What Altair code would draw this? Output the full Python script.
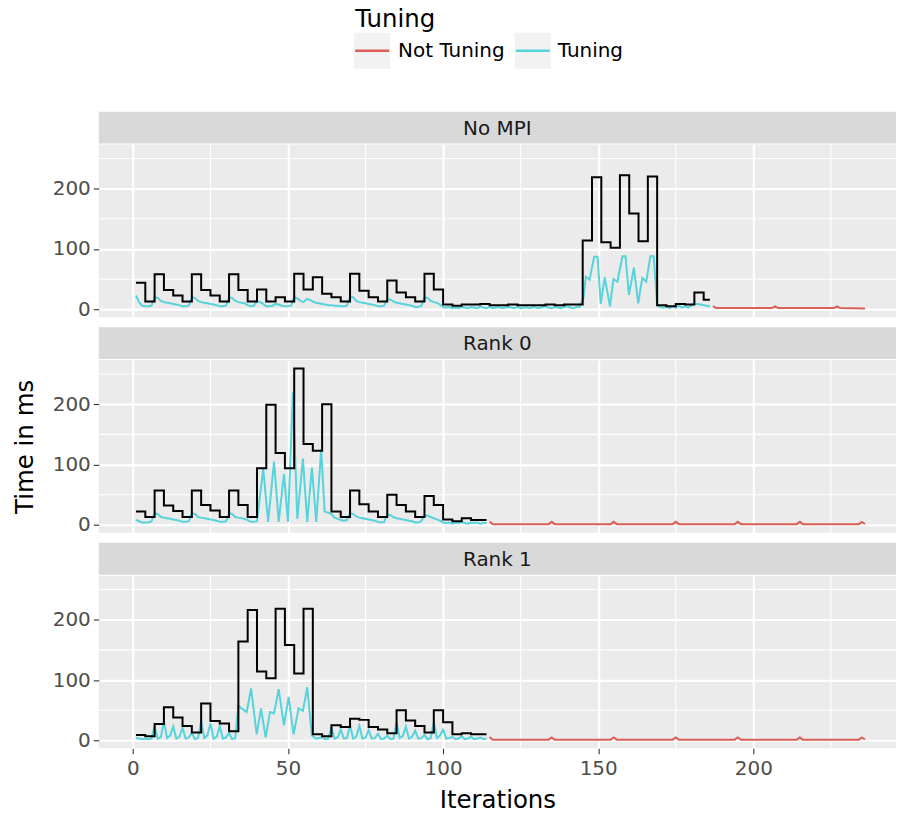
import altair as alt
import pandas as pd

# ---------------- data ----------------
panels = ["No MPI", "Rank 0", "Rank 1"]
tuning_levels = ["Not Tuning", "Tuning"]
tuning_colors = ["#DB5F57", "#57D3DB"]
x_ticks = [0, 50, 100, 150, 200]
y_ticks = [0, 100, 200]
x_minor = [25, 75, 125, 175, 225]
y_minor = [50, 150, 250]

# --- No MPI ---
nompi_step_x = [1, 4, 7, 10, 13, 16, 19, 22, 25, 28, 31, 34, 37, 40, 43, 46, 49, 52, 55, 58,
                61, 64, 67, 70, 73, 76, 79, 82, 85, 88, 91, 94, 97, 100, 103, 106, 109, 112, 115,
                118, 121, 124, 127, 130, 133, 136, 139, 142, 145, 148, 151, 154, 157, 160, 163,
                166, 169, 172, 175, 178, 181, 184, 186]
nompi_step_y = [44, 13, 58, 32, 23, 13, 58, 32, 23, 13, 58, 32, 13, 33, 13, 20, 13, 59, 33, 53,
                26, 20, 13, 59, 31, 20, 13, 48, 28, 20, 13, 59, 33, 8, 6, 8, 8, 9, 7,
                7, 8, 7, 7, 7, 8, 7, 8, 8, 114, 219, 111, 102, 222, 159, 113,
                220, 7, 5, 9, 8, 28, 16, 16]
nompi_tune_x = list(range(1, 145)) + [145.3, 146, 147.2, 148.7, 149.8, 150.8, 152.1, 153.8, 154.9,
                                      156.2, 157.8, 158.8, 159.9, 161.5, 162.9, 164.2, 165.5,
                                      166.8, 167.9, 169] + list(range(170, 187))
nompi_tune_y = [23, 12, 6, 5, 5, 6,
                20, 19, 14, 12, 11, 10, 9, 8, 7, 5, 5, 6,
                20, 19, 14, 12, 11, 10, 9, 8, 7, 5, 5, 6,
                20, 19, 14, 12, 11, 10, 7, 5, 6,
                14, 12, 9, 5, 5, 6, 9, 8, 6, 5, 5, 6,
                20, 18, 14, 12, 17, 16, 13, 11, 10, 9, 8, 7, 7, 6, 6, 5, 5, 6,
                20, 20, 14, 12, 11, 10, 9, 8, 7, 5, 5, 6,
                17, 16, 13, 11, 10, 9, 8, 7, 6, 4, 4, 6,
                20, 19, 14, 12, 11, 8,
                4, 3, 4, 2, 3, 2, 4, 3, 2, 4, 3, 2, 5, 3, 2, 4, 2, 3, 4, 2, 3, 4, 3, 2, 4,
                2, 3, 3, 2, 4, 3, 2, 4, 5, 3, 2, 4, 3, 2, 4, 5, 3, 2, 4, 4,
                20, 54, 49, 87, 87, 9, 53, 5, 50, 46, 88, 88, 24, 69, 10, 52, 46, 88, 88, 7,
                4, 3, 4, 2, 5, 3, 6, 3, 5, 3, 6, 9, 9, 8, 7, 6, 5]
nompi_free_x = [187, 188, 206, 207, 208, 226, 227, 228, 236]
nompi_free_y = [5.6, 2.2, 2.2, 5, 2.2, 2.2, 5, 2.2, 1.5]

# --- Rank 0 ---
rank0_step_x = [1, 4, 7, 10, 13, 16, 19, 22, 25, 28, 31, 34, 37, 40, 43, 46, 49, 52, 55, 58,
                61, 64, 67, 70, 73, 76, 79, 82, 85, 88, 91, 94, 97, 100, 103, 106, 109, 112, 114]
rank0_step_y = [22, 13, 57, 32, 23, 13, 57, 33, 24, 13, 57, 33, 13, 94, 199, 119, 94, 259, 134, 123,
                200, 22, 13, 57, 34, 22, 13, 50, 33, 22, 13, 48, 33, 9, 6, 11, 8, 8, 8]
rank0_tune_x = list(range(1, 40)) + [40, 42, 43.6, 45.5, 47, 48.7, 50, 51.6, 53, 54.8, 56.2,
                                     57.7, 59.1, 60.7, 61.8] + list(range(63, 115))
rank0_tune_y = [8, 6, 4, 4, 4, 6,
                19, 18, 13, 12, 11, 10, 9, 8, 7, 5, 5, 6,
                19, 18, 13, 12, 11, 10, 9, 8, 7, 5, 5, 6,
                19, 18, 13, 12, 11, 10, 8, 5, 5,
                6, 93, 5, 105, 5, 84, 5, 220, 10, 110, 5, 95, 5, 125, 22,
                20, 18, 12, 10, 8, 7, 8,
                19, 18, 14, 12, 11, 10, 9, 8, 7, 5, 4, 5,
                17, 16, 13, 11, 10, 9, 8, 7, 6, 4, 4, 6,
                16, 15, 13, 11, 9, 7,
                4, 3, 4, 2, 4, 3, 5, 3, 2, 4, 3, 4, 2, 3, 3]
rank0_free_x = [115, 116, 134, 135, 136, 154, 155, 156, 174, 175, 176, 194, 195, 196,
                214, 215, 216, 234, 235, 236]
rank0_free_y = [5.6, 1.2, 1.2, 5, 1.2, 1.2, 5, 1.2, 1.2, 5, 1.2, 1.2, 5, 1.2,
                1.2, 5, 1.2, 1.2, 5, 1.5]

# --- Rank 1 ---
rank1_step_x = [1, 4, 7, 10, 13, 16, 19, 22, 25, 28, 31, 34, 37, 40, 43, 46, 49, 52, 55, 58,
                61, 64, 67, 70, 73, 76, 79, 82, 85, 88, 91, 94, 97, 100, 103, 106, 109, 112, 114]
rank1_step_y = [9, 7, 27, 55, 38, 24, 13, 61, 32, 28, 15, 164, 216, 114, 103, 218, 158, 111, 218, 10,
                7, 25, 22, 36, 34, 22, 18, 12, 50, 33, 24, 13, 50, 30, 10, 12, 10, 10, 10]
rank1_tune_x = list(range(1, 34)) + [34, 35, 36.7, 38.1, 39.9, 41.3, 42.8, 44.2, 45.5, 47,
                                     48.7, 50.2, 51.8, 53.4, 54.8, 56.2, 57.7] + list(range(59, 115))
rank1_tune_y = [4, 3, 2, 3, 2, 3, 23, 3, 5, 32, 4, 8, 23, 3, 6, 21, 3, 5, 12, 2,
                4, 32, 4, 8, 28, 3, 6, 23, 3, 5, 12, 2, 4,
                58, 53, 47, 86, 10, 53, 5, 47, 45, 85, 25, 72, 10, 53, 49, 88, 8,
                3, 4, 5, 2, 3, 21, 3, 5, 18, 3, 4, 25, 3, 6, 24, 3, 5, 17, 3, 4,
                11, 2, 3, 8, 2, 3, 30, 4, 7, 23, 3, 6, 16, 3, 4, 9, 2, 4, 30, 4,
                8, 18, 3, 4, 6, 2, 3, 7, 2, 3, 6, 2, 3, 5, 2, 3]
rank1_free_x = [115, 116, 134, 135, 136, 154, 155, 156, 174, 175, 176, 194, 195, 196,
                214, 215, 216, 234, 235, 236]
rank1_free_y = [5.6, 1.2, 1.2, 5, 1.2, 1.2, 5, 1.2, 1.2, 5, 1.2, 1.2, 5, 1.2,
                1.2, 5, 1.2, 1.2, 5, 1.5]

# ---------------- styling ----------------
FONT = "DejaVu Sans"
W, PH, SH = 799, 173, 32
LABEL_FS, TITLE_FS = 20, 24.5
xscale = alt.Scale(domain=[-11, 246], nice=False, zero=False)
yscale = alt.Scale(domain=[-13, 273], nice=False, zero=False)
color_scale = alt.Scale(domain=tuning_levels, range=tuning_colors)


def x_axis(bottom):
    kw = dict(values=x_ticks, grid=True, gridColor="white", gridWidth=2.2, domain=False,
              labels=bottom, ticks=bottom, tickColor="#333333", tickSize=5.5, tickWidth=1.1,
              labelColor="#4D4D4D", labelFontSize=LABEL_FS, labelFont=FONT,
              titleFontSize=TITLE_FS, titleFont=FONT, titleFontWeight="normal",
              titleColor="black")
    if bottom:
        kw.update(title="Iterations", labelPadding=5, titlePadding=10)
    else:
        kw.update(title="", labelPadding=0, titlePadding=0)
    return alt.Axis(**kw)


def y_axis(show_title):
    return alt.Axis(values=y_ticks, grid=True, gridColor="white", gridWidth=2.2, domain=False,
                    tickColor="#333333", tickSize=5.5, tickWidth=1.1,
                    labelColor="#4D4D4D", labelFontSize=LABEL_FS, labelFont=FONT, labelPadding=3,
                    title="Time in ms" if show_title else "", titleFontSize=TITLE_FS,
                    titleFont=FONT, titleFontWeight="normal", titleColor="black", titlePadding=15)


def panel(step_x, step_y, tx, ty, fx, fy, bottom, ytitle):
    X = alt.X("x:Q", scale=xscale, axis=x_axis(bottom))
    Y = alt.Y("y:Q", scale=yscale, axis=y_axis(ytitle))
    minx = alt.Chart(pd.DataFrame({"x": x_minor})).mark_rule(color="white", strokeWidth=1.1).encode(x=X)
    miny = alt.Chart(pd.DataFrame({"y": y_minor})).mark_rule(color="white", strokeWidth=1.1).encode(y=Y)
    lines_df = pd.concat([
        pd.DataFrame({"x": fx, "y": fy, "Tuning": tuning_levels[0]}),
        pd.DataFrame({"x": tx, "y": ty, "Tuning": tuning_levels[1]}),
    ])
    lines = alt.Chart(lines_df).mark_line(strokeWidth=2).encode(
        x=X, y=Y, color=alt.Color("Tuning:N", scale=color_scale, legend=None))
    step = alt.Chart(pd.DataFrame({"x": step_x, "y": step_y})).mark_line(
        interpolate="step-after", color="black", strokeWidth=2).encode(x=X, y=Y)
    return alt.layer(minx, miny, lines, step).properties(
        width=W, height=PH, view=alt.ViewBackground(fill="#EBEBEB", stroke=None))


def strip(name):
    df = pd.DataFrame({"panel": [name]})
    bg = alt.Chart(df).mark_rect(color="#D9D9D9").encode(
        x=alt.value(0), x2=alt.value(W), y=alt.value(0), y2=alt.value(SH))
    tx = alt.Chart(df).mark_text(font=FONT, fontSize=LABEL_FS, color="#1A1A1A",
                                 align="center", baseline="middle").encode(
        x=alt.value(W / 2), y=alt.value(SH / 2 + 1), text="panel:N")
    return alt.layer(bg, tx).properties(width=W, height=SH,
                                        view=alt.ViewBackground(fill="white", stroke=None))


# manual legend (ggplot style, at top)
LEG_H = 104
key_x = [256, 417]
lab_x = [300, 460]
leg_layers = []
leg_layers.append(alt.Chart(pd.DataFrame({"t": ["Tuning"]})).mark_text(
    font=FONT, fontSize=TITLE_FS, color="black", align="left", baseline="alphabetic").encode(
    x=alt.value(257), y=alt.value(26.5), text="t:N"))
for i, lab in enumerate(tuning_levels):
    d = pd.DataFrame({"Tuning": [lab]})
    leg_layers.append(alt.Chart(d).mark_rect(color="#F2F2F2").encode(
        x=alt.value(key_x[i]), x2=alt.value(key_x[i] + 36), y=alt.value(32), y2=alt.value(68)))
    leg_layers.append(alt.Chart(d).mark_rule(strokeWidth=2.5).encode(
        x=alt.value(key_x[i] + 1), x2=alt.value(key_x[i] + 35), y=alt.value(50),
        color=alt.Color("Tuning:N", scale=color_scale, legend=None)))
    leg_layers.append(alt.Chart(d).mark_text(
        font=FONT, fontSize=LABEL_FS, color="black", align="left", baseline="middle").encode(
        x=alt.value(lab_x[i]), y=alt.value(50.5), text="Tuning:N"))
legend = alt.layer(*leg_layers).properties(width=W, height=LEG_H,
                                           view=alt.ViewBackground(fill="white", stroke=None))

p1 = alt.vconcat(strip(panels[0]), panel(nompi_step_x, nompi_step_y, nompi_tune_x, nompi_tune_y,
                                         nompi_free_x, nompi_free_y, False, False), spacing=0)
p2 = alt.vconcat(strip(panels[1]), panel(rank0_step_x, rank0_step_y, rank0_tune_x, rank0_tune_y,
                                         rank0_free_x, rank0_free_y, False, True), spacing=0)
p3 = alt.vconcat(strip(panels[2]), panel(rank1_step_x, rank1_step_y, rank1_tune_x, rank1_tune_y,
                                         rank1_free_x, rank1_free_y, True, False), spacing=0)

chart = alt.vconcat(legend, p1, p2, p3, spacing=7).properties(
    padding={"left": 12, "top": 0, "right": 0, "bottom": 2}
).configure(background="white").configure_view(stroke=None)

chart.save("out.html", embed_options={"renderer": "svg", "actions": False})
